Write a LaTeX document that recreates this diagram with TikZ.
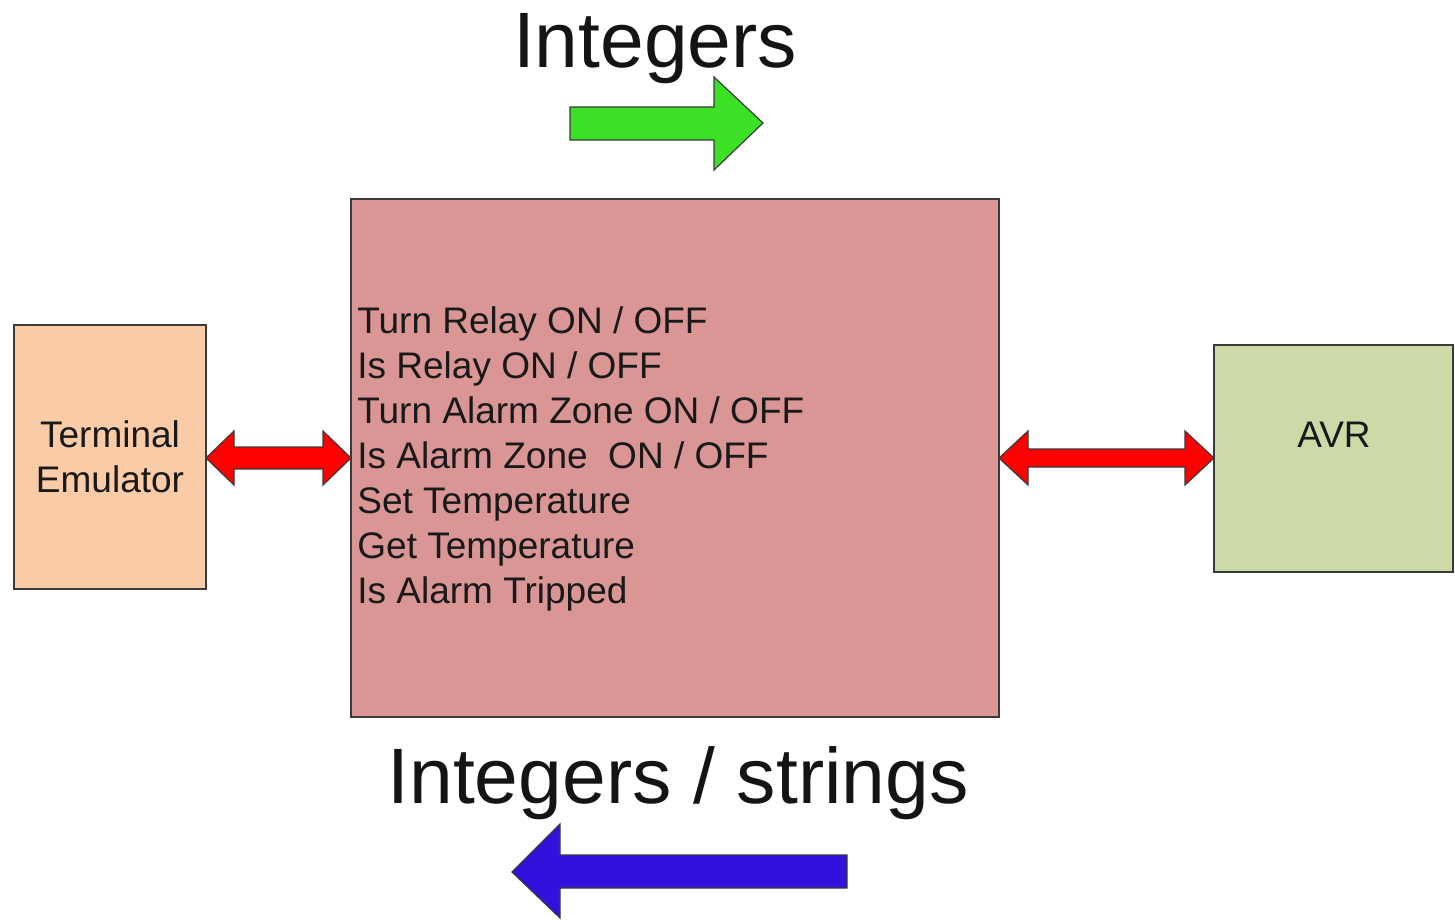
\documentclass[tikz,border=0pt]{standalone}
\usepackage{fontspec}
\setmainfont{Liberation Sans}
\usetikzlibrary{calc}
\definecolor{mainfill}{HTML}{D99694}
\definecolor{termfill}{HTML}{F9CBA6}
\definecolor{avrfill}{HTML}{CCDAA8}
\definecolor{arrgreen}{HTML}{3CE125}
\definecolor{arrblue}{HTML}{3311DD}
\definecolor{edge}{HTML}{3A3A3A}
\tikzset{
  blockbox/.style={draw=edge, line width=1pt, inner sep=0pt, outer sep=0pt},
  smalltext/.style={font=\fontsize{18.5pt}{22.5pt}\selectfont, text=black!90},
  bigtext/.style={font=\fontsize{39.3pt}{47pt}\selectfont, text=black!92, inner sep=0pt},
  shapearrow/.style={draw=edge, line width=0.6pt, line join=miter},
}
\begin{document}
\begin{tikzpicture}[x=0.5pt,y=-0.5pt]
\useasboundingbox (0,0) rectangle (1455,920);
% blocks
\node[blockbox, fill=mainfill, minimum width=324pt, minimum height=259pt] (main) at (675,458) {};
\node[blockbox, fill=termfill, minimum width=96pt, minimum height=132pt, align=center, smalltext] (term) at (110,457) {Terminal\\Emulator};
\node[blockbox, fill=avrfill, minimum width=119.5pt, minimum height=113.5pt] (avr) at (1333.5,458) {};
\node[smalltext, anchor=base, inner sep=0pt] (avrlabel) at (1334,447) {AVR};
\node[smalltext, anchor=base west, align=left, inner sep=0pt] (list) at (357,603) {Turn Relay ON / OFF\\Is Relay ON / OFF\\Turn Alarm Zone ON / OFF\\Is Alarm Zone~~ON / OFF\\Set Temperature\\Get Temperature\\Is Alarm Tripped};
% titles
\node[bigtext, anchor=base] (ints) at (655,68) {Integers};
\node[bigtext, anchor=base] (intstr) at (678,803) {Integers / strings};
% double arrows between blocks
\draw[shapearrow, fill=red] (term.east |- main.west) -- ++(28,-27) -- ++(0,16) -- ($(main.west)+(-28,-11)$) -- ++(0,-16) -- (main.west) -- ++(-28,27) -- ++(0,-16) -- ($(term.east |- main.west)+(28,11)$) -- ++(0,16) -- cycle;
\draw[shapearrow, fill=red] (main.east) -- ++(29,-27) -- ++(0,18) -- ($(avr.west)+(-29,-9)$) -- ++(0,-18) -- (avr.west) -- ++(-29,27) -- ++(0,-18) -- ($(main.east)+(29,9)$) -- ++(0,18) -- cycle;
% green arrow
\draw[shapearrow, fill=arrgreen] (570,107) -- (714,107) -- (714,77) -- (763,123) -- (714,170) -- (714,140) -- (570,140) -- cycle;
% blue arrow
\draw[shapearrow, fill=arrblue] (512,872) -- (560,824) -- (560,855) -- (847,855) -- (847,888) -- (560,888) -- (560,918) -- cycle;
\end{tikzpicture}
\end{document}
